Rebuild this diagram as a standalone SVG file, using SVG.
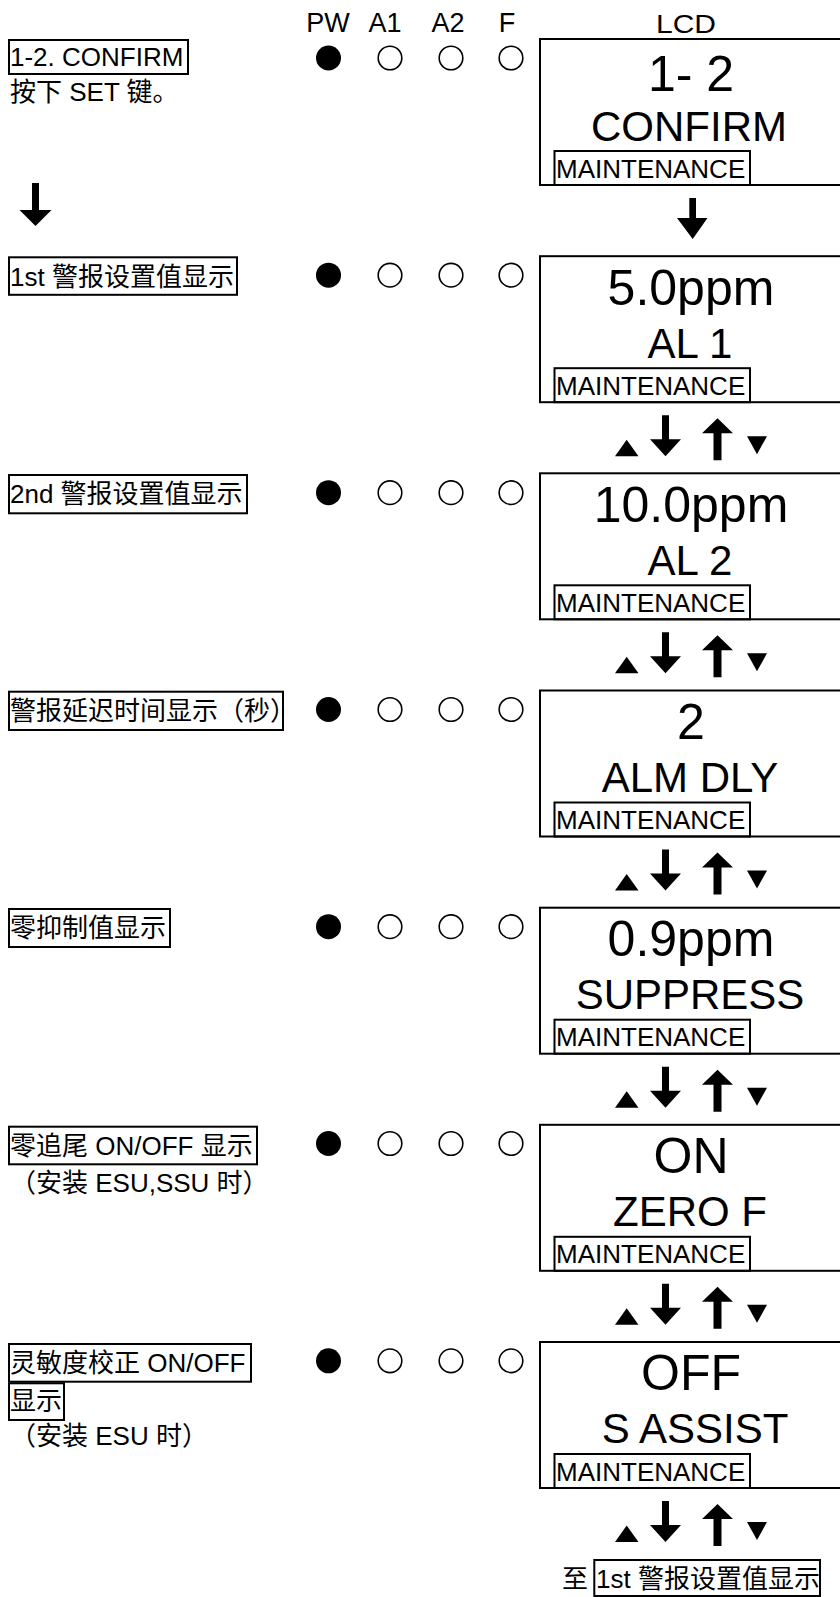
<svg xmlns="http://www.w3.org/2000/svg" width="840" height="1597" viewBox="0 0 840 1597">
<style>
text{font-family:"Liberation Sans","Noto Sans CJK SC",sans-serif;fill:#000}
.lb{font-size:26px}
.hd{font-size:27px;text-anchor:middle}
.big{font-size:50px;text-anchor:middle}
.mid{font-size:42px;text-anchor:middle}
.mt{font-size:26px}
.box{fill:none;stroke:#000;stroke-width:2}
.lcd{fill:#fff;stroke:#000;stroke-width:2}
.on{fill:#000}
.off{fill:#fff;stroke:#000;stroke-width:1.6}
.arr{fill:#000}
</style>
<defs>
<g id="nav">
<polygon class="arr" points="615,54 638.5,54 626.7,37.5"/>
<polygon class="arr" points="662,13 669,13 669,37 681,37 665.5,54 650,37 662,37"/>
<polygon class="arr" points="717.5,16 733,31 721.5,31 721.5,58 713.5,58 713.5,31 702,31"/>
<polygon class="arr" points="747,34 767,34 757,52"/>
</g>
<g id="leds">
<circle class="on" cx="328.5" cy="0" r="12.5"/>
<circle class="off" cx="390" cy="0" r="11.8"/>
<circle class="off" cx="451" cy="0" r="11.8"/>
<circle class="off" cx="511" cy="0" r="11.8"/>
</g>
</defs>

<g id="header">
<text class="hd" x="328" y="32">PW</text>
<text class="hd" x="385" y="32">A1</text>
<text class="hd" x="448" y="32">A2</text>
<text class="hd" x="507" y="32">F</text>
<text x="656" y="33" font-size="25" textLength="60" lengthAdjust="spacingAndGlyphs">LCD</text>
</g>

<g id="row1">
<rect class="box" x="9" y="40" width="179" height="34"/>
<text class="lb" x="10" y="66">1-2. CONFIRM</text>
<text class="lb" x="10" y="101">按下 SET 键。</text>
<use href="#leds" y="58"/>
<rect class="lcd" x="540" y="39" width="310" height="146"/>
<text class="big" x="691" y="91">1- 2</text>
<text class="mid" x="689" y="141">CONFIRM</text>
<rect class="box" x="554.5" y="151" width="195.5" height="34"/>
<text class="mt" x="556" y="178">MAINTENANCE</text>
</g>

<g id="row2">
<rect class="box" x="9" y="257.3" width="228" height="37.5"/>
<text class="lb" x="10" y="286">1st 警报设置值显示</text>
<use href="#leds" y="275.2"/>
<rect class="lcd" x="540" y="256.2" width="310" height="146"/>
<text class="big" x="691" y="305">5.0ppm</text>
<text class="mid" x="690" y="358">AL 1</text>
<rect class="box" x="554.5" y="368.2" width="195.5" height="34"/>
<text class="mt" x="556" y="395">MAINTENANCE</text>
</g>

<g id="row3">
<rect class="box" x="9" y="475" width="238" height="38.3"/>
<text class="lb" x="10" y="503">2nd 警报设置值显示</text>
<use href="#leds" y="492.7"/>
<rect class="lcd" x="540" y="473.3" width="310" height="146"/>
<text class="big" x="691" y="522">10.0ppm</text>
<text class="mid" x="690" y="575">AL 2</text>
<rect class="box" x="554.5" y="585.3" width="195.5" height="34"/>
<text class="mt" x="556" y="612">MAINTENANCE</text>
</g>

<g id="row4">
<rect class="box" x="9" y="691.7" width="274" height="38.3"/>
<text class="lb" x="10" y="720">警报延迟时间显示（秒）</text>
<use href="#leds" y="709.5"/>
<rect class="lcd" x="540" y="690.5" width="310" height="146"/>
<text class="big" x="691" y="739">2</text>
<text class="mid" x="690" y="792">ALM DLY</text>
<rect class="box" x="554.5" y="802.5" width="195.5" height="34"/>
<text class="mt" x="556" y="829">MAINTENANCE</text>
</g>

<g id="row5">
<rect class="box" x="9" y="909" width="161" height="38"/>
<text class="lb" x="10" y="937">零抑制值显示</text>
<use href="#leds" y="926.7"/>
<rect class="lcd" x="540" y="907.7" width="310" height="146"/>
<text class="big" x="691" y="956">0.9ppm</text>
<text class="mid" x="690" y="1009">SUPPRESS</text>
<rect class="box" x="554.5" y="1019.7" width="195.5" height="34"/>
<text class="mt" x="556" y="1046">MAINTENANCE</text>
</g>

<g id="row6">
<rect class="box" x="9" y="1126.7" width="248" height="37.6"/>
<text class="lb" x="10" y="1154.5">零追尾 ON/OFF 显示</text>
<text class="lb" x="10" y="1192">（安装 ESU,SSU 时）</text>
<use href="#leds" y="1143.5"/>
<rect class="lcd" x="540" y="1124.8" width="310" height="146"/>
<text class="big" x="691" y="1173">ON</text>
<text class="mid" x="690" y="1226">ZERO F</text>
<rect class="box" x="554.5" y="1236.8" width="195.5" height="34"/>
<text class="mt" x="556" y="1263">MAINTENANCE</text>
</g>

<g id="row7">
<rect class="box" x="9" y="1344" width="242" height="37.7"/>
<text class="lb" x="10" y="1372">灵敏度校正 ON/OFF</text>
<rect class="box" x="9" y="1383.3" width="55" height="36.7"/>
<text class="lb" x="10" y="1410">显示</text>
<text class="lb" x="10" y="1445">（安装 ESU 时）</text>
<use href="#leds" y="1360.8"/>
<rect class="lcd" x="540" y="1342" width="310" height="146"/>
<text class="big" x="691" y="1390">OFF</text>
<text class="mid" x="695" y="1443">S ASSIST</text>
<rect class="box" x="554.5" y="1454" width="195.5" height="34"/>
<text class="mt" x="556" y="1481">MAINTENANCE</text>
</g>

<g id="footer">
<text class="lb" x="562" y="1588">至</text>
<rect class="box" x="594.3" y="1560" width="225.7" height="36"/>
<text class="lb" x="596" y="1588">1st 警报设置值显示</text>
</g>

<g id="connectors">
<polygon class="arr" points="32,183 39,183 39,210 51.5,210 35.5,226 19.5,210 32,210"/>
<polygon class="arr" points="689.3,198 696,198 696,218 707.5,218 692.7,239 677,218 689.3,218"/>
<use href="#nav" y="402.2"/>
<use href="#nav" y="619.3"/>
<use href="#nav" y="836.5"/>
<use href="#nav" y="1053.7"/>
<use href="#nav" y="1270.8"/>
<use href="#nav" y="1488"/>
</g>
</svg>
